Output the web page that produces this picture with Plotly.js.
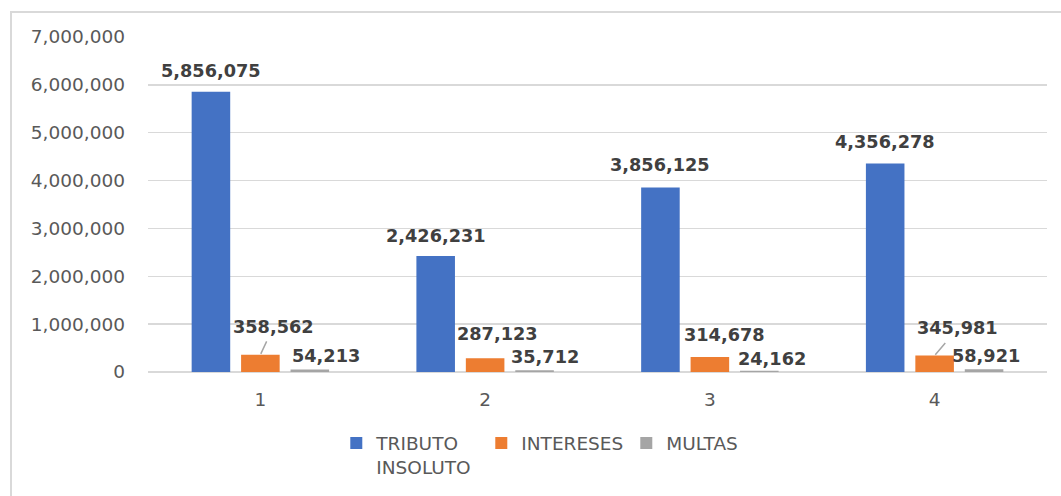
<!DOCTYPE html>
<html>
<head>
<meta charset="utf-8">
<script src="https://cdn.plot.ly/plotly-3.0.1.min.js"></script>
<style>
  html, body { margin: 0; padding: 0; background: #ffffff; }
  #wrap { position: relative; width: 1061px; height: 496px; overflow: hidden; }
  #chart { position: absolute; left: 0; top: 0; width: 1061px; height: 496px; }
  #frame { position: absolute; left: 10px; top: 11px; width: 1100px; height: 600px;
           border: 2px solid #d9d9d9; pointer-events: none; }
</style>
</head>
<body>
<div id="wrap">
  <div id="chart"></div>
  <div id="frame"></div>
</div>
<script>
// ---- data ----
const categories = ['1', '2', '3', '4'];
const seriesNames = ['TRIBUTO<br>INSOLUTO', 'INTERESES', 'MULTAS'];
const tributo = [5856075, 2426231, 3856125, 4356278];
const intereses = [358562, 287123, 314678, 345981];
const multas = [54213, 35712, 24162, 58921];
const yTickVals = [0, 1000000, 2000000, 3000000, 4000000, 5000000, 6000000, 7000000];
const yTickText = ['0', '1,000,000', '2,000,000', '3,000,000', '4,000,000', '5,000,000', '6,000,000', '7,000,000'];

// ---- style ----
const colors = ['#4472C4', '#ED7D31', '#A5A5A5'];
const FONT = 'DejaVu Sans, Verdana, sans-serif';
const W = 1061, H = 496;
const margin = {l: 147.5, r: 13.5, t: 36.5, b: 124, autoexpand: false};
const bargap = 0.34, bargroupgap = 0.22;

// label placement (pixel offsets from bar-top centre): [dx, dy, leader]
const labelPlace = [
  [[0, 21, false], [0, 20, false], [0, 22, false], [0, 22, false]],
  [[13, 28, true], [12, 24, false], [15, 22, false], [23, 27, true]],
  [[16, 13.5, false], [10.5, 13, false], [12.5, 12, false], [1.5, 12.7, false]]
];

const seriesValues = [tributo, intereses, multas];
const traces = seriesValues.map((vals, i) => ({
  type: 'bar',
  name: seriesNames[i],
  x: categories,
  y: vals,
  marker: {color: colors[i]},
  hoverinfo: 'skip'
}));

const plotW = W - margin.l - margin.r;
const catW = plotW / categories.length;
const slot = (1 - bargap) * catW / seriesValues.length;

const fmt = v => v.toLocaleString('en-US');
const annotations = [];
seriesValues.forEach((vals, s) => {
  const barOffset = (s - (seriesValues.length - 1) / 2) * slot;
  vals.forEach((v, c) => {
    const [dx, dy, leader] = labelPlace[s][c];
    const base = {
      x: c, y: v, xref: 'x', yref: 'y',
      text: '<b>' + fmt(v) + '</b>',
      font: {family: FONT, size: 17.7, color: '#404040'}
    };
    if (leader) {
      annotations.push(Object.assign(base, {
        xshift: barOffset,
        showarrow: true, arrowhead: 0, arrowwidth: 1.5, arrowcolor: '#a6a6a6',
        ax: dx, ay: -dy, borderpad: 4, standoff: 1
      }));
    } else {
      annotations.push(Object.assign(base, {
        xshift: barOffset + dx, yshift: dy, showarrow: false
      }));
    }
  });
});

const layout = {
  width: W, height: H,
  margin: margin,
  paper_bgcolor: 'rgba(0,0,0,0)',
  plot_bgcolor: 'rgba(0,0,0,0)',
  barmode: 'group',
  bargap: bargap,
  bargroupgap: bargroupgap,
  showlegend: true,
  hovermode: false,
  font: {family: FONT, size: 18.5, color: '#595959'},
  xaxis: {
    type: 'category',
    range: [-0.5, categories.length - 0.5],
    autorange: false,
    showgrid: false, zeroline: false, showline: false,
    ticks: '', ticklabelstandoff: 14,
    tickfont: {family: FONT, size: 18.5, color: '#595959'}
  },
  yaxis: {
    range: [0, 7000000],
    autorange: false,
    tickvals: yTickVals, ticktext: yTickText,
    showgrid: true, gridcolor: '#d9d9d9', gridwidth: 1.5,
    zeroline: true, zerolinecolor: '#d9d9d9', zerolinewidth: 1.5,
    showline: false, ticks: '', ticklabelstandoff: 22,
    tickfont: {family: FONT, size: 18.5, color: '#595959'}
  },
  legend: {
    orientation: 'h',
    x: (336 - margin.l) / plotW, xanchor: 'left',
    y: -0.157, yanchor: 'top',
    valign: 'top',
    entrywidth: 100, entrywidthmode: 'pixels',
    font: {family: FONT, size: 18.5, color: '#595959'},
    bgcolor: 'rgba(0,0,0,0)'
  },
  annotations: annotations
};

Plotly.newPlot('chart', traces, layout, {displayModeBar: false, staticPlot: true});
</script>
</body>
</html>
